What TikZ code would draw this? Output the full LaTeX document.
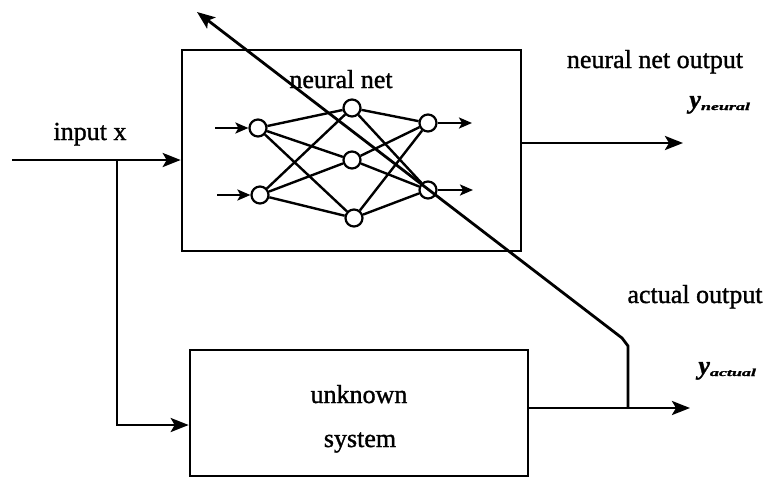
\documentclass[tikz,border=0pt]{standalone}
\usepackage{fontspec}
\setmainfont{Liberation Serif}[FakeBold=1.2]
\usetikzlibrary{arrows.meta}
\begin{document}
\begin{tikzpicture}[x=1pt,y=-1pt,
  line width=2.8pt,
  box/.style={draw, line width=2.6pt, inner sep=0pt},
  neuron/.style={draw, circle, minimum size=17pt, inner sep=0pt, line width=2.2pt},
  conn/.style={line width=2.4pt},
  bigarrow/.style={-{Stealth[length=18pt,width=14pt,inset=4pt]}},
  smallarrow/.style={-{Stealth[length=13pt,width=11pt,inset=3pt]}},
  lbl/.style={font=\fontsize{26}{30}\selectfont, inner sep=0pt},
  ylbl/.style={font=\fontsize{26}{30}\selectfont\bfseries\itshape, inner sep=0pt, anchor=base west},
]
\useasboundingbox (0,0) rectangle (765,480);

% boxes
\node[box, minimum width=339pt, minimum height=201pt] (nn) at (351.5,150.5) {};
\node[box, minimum width=338pt, minimum height=126pt] (us) at (359,413) {};

% labels
\node[lbl, anchor=base] (nnlabel) at (341,88) {neural net};
\node[lbl, anchor=base] (us1) at (359,403) {unknown};
\node[lbl, anchor=base] (us2) at (360,447) {system};
\node[lbl, anchor=base] (inlabel) at (90,140) {input x};
\node[lbl, anchor=base] (nolabel) at (655,68) {neural net output};
\node[lbl, anchor=base] (aolabel) at (695,303) {actual output};
\node[ylbl] (yn) at (688,108) {y\raisebox{-2pt}{\fontsize{15}{15}\selectfont\scalebox{1.2}[0.7]{neural}}};
\node[ylbl] (ya) at (697,374) {y\raisebox{-2pt}{\fontsize{15}{15}\selectfont\scalebox{1.2}[0.7]{actual}}};

% neurons
\node[neuron] (i1) at (258,128) {};
\node[neuron] (i2) at (260,195) {};
\node[neuron] (h1) at (352,108) {};
\node[neuron] (h2) at (352,160) {};
\node[neuron] (h3) at (354,218) {};
\node[neuron] (o1) at (428,123) {};
\node[neuron] (o2) at (428,190) {};

\foreach \a in {i1,i2}
  \foreach \b in {h1,h2,h3}
    \draw[conn] (\a) -- (\b);
\foreach \a in {h1,h2,h3}
  \foreach \b in {o1,o2}
    \draw[conn] (\a) -- (\b);

\coordinate (a1) at (215,128);
\coordinate (a2) at (217,195);
\coordinate (b1) at (472,123);
\coordinate (b2) at (473,190);
\draw[conn, smallarrow] (a1) -- (i1);
\draw[conn, smallarrow] (a2) -- (i2);
\draw[conn, smallarrow] (o1) -- (b1);
\draw[conn, smallarrow] (o2) -- (b2);

% signal lines
\coordinate (inx) at (12,160);
\coordinate (br) at (117,160);
\coordinate (brb) at (117,425);
\draw[bigarrow] (inx) -- (nn.west |- inx);
\draw[bigarrow] (br) -- (brb) -- (us.west |- brb);

\coordinate (yno) at (683,143);
\draw[bigarrow] (nn.east |- yno) -- (yno);
\coordinate (yao) at (690,408);
\draw[bigarrow] (us.east |- yao) -- (yao);

\coordinate (tap) at (628,408);
\coordinate (c1) at (628,346);
\coordinate (c2) at (622,338);
\coordinate (tip) at (197,12);
\draw[bigarrow] (tap) -- (c1) -- (c2) -- (tip);
\end{tikzpicture}
\end{document}
